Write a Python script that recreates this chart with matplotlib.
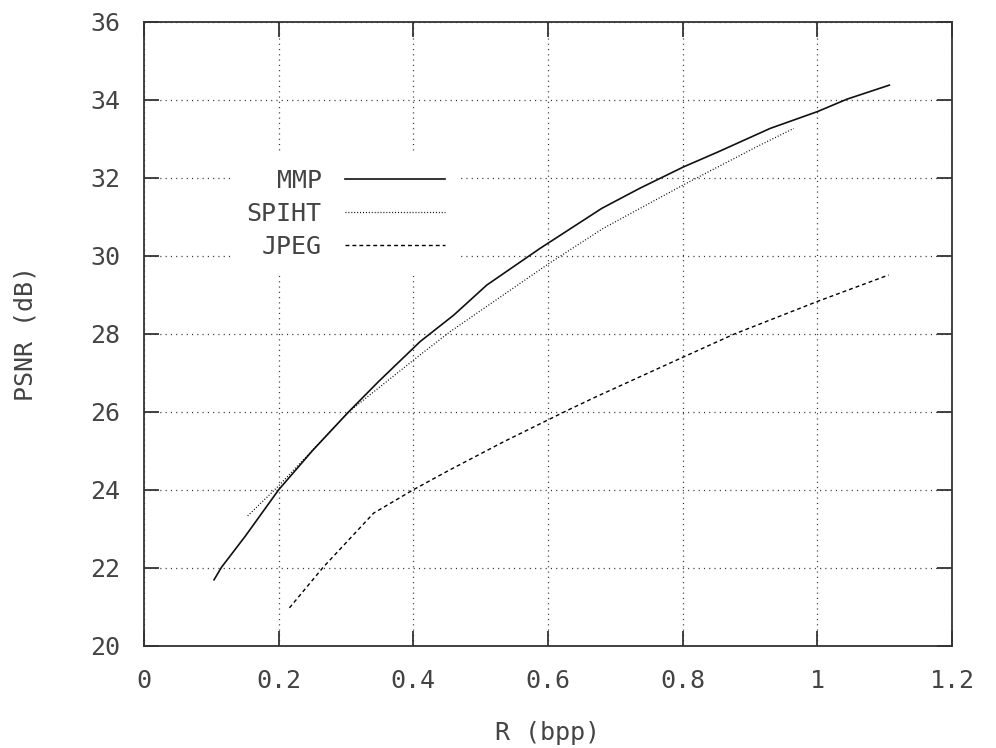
import matplotlib
matplotlib.use("Agg")
import matplotlib.pyplot as plt

# rate (bpp) / PSNR (dB) curves
mmp_r = [0.104, 0.115, 0.15, 0.20, 0.25, 0.304, 0.348, 0.41, 0.46, 0.509,
         0.588, 0.68, 0.737, 0.801, 0.853, 0.93, 1.0, 1.044, 1.107]
mmp_psnr = [21.69, 22.01, 22.80, 24.0, 25.0, 26.0, 26.77, 27.80, 28.48, 29.25,
            30.19, 31.22, 31.74, 32.28, 32.67, 33.27, 33.70, 34.02, 34.38]

spiht_r = [0.154, 0.2, 0.304, 0.41, 0.455, 0.601, 0.6825, 0.801, 0.91, 0.965]
spiht_psnr = [23.33, 24.1, 26.0, 27.46, 28.06, 29.8, 30.71, 31.82, 32.80, 33.27]

jpeg_r = [0.216, 0.266, 0.341, 0.40, 0.452, 0.534, 0.628, 0.672, 0.78, 0.876, 1.0, 1.106]
jpeg_psnr = [20.97, 22.01, 23.40, 24.0, 24.49, 25.23, 26.03, 26.39, 27.24, 27.99, 28.83, 29.51]

xticks = [0, 0.2, 0.4, 0.6, 0.8, 1, 1.2]
xticklabels = ["0", "0.2", "0.4", "0.6", "0.8", "1", "1.2"]
yticks = [20, 22, 24, 26, 28, 30, 32, 34, 36]

plt.rcParams['font.family'] = ['DejaVu Sans Mono']
plt.rcParams['lines.scale_dashes'] = False
txt = '#444444'
fs = 18

fig = plt.figure(figsize=(9.96, 7.48), dpi=100)
ax = fig.add_axes([0.1446, 0.1368, 0.8112, 0.8338])

ax.plot(mmp_r, mmp_psnr, color='#111111', lw=1.2, label='MMP')
ax.plot(spiht_r, spiht_psnr, color='black', lw=0.9, linestyle=(0, (0.7, 1.4)), label='SPIHT')
ax.plot(jpeg_r, jpeg_psnr, color='black', lw=1.0, linestyle=(0, (2.8, 2.2)), label='JPEG')

ax.set_xlim(0, 1.2)
ax.set_ylim(20, 36)
ax.set_xticks(xticks)
ax.set_xticklabels(xticklabels)
ax.set_yticks(yticks)

ax.grid(True, color='#333333', lw=0.9, linestyle=(0, (0.8, 3.0)))
ax.tick_params(direction='in', length=11, width=1.3, color='#333333',
               top=True, right=True, labelsize=fs, labelcolor=txt, pad=17)
for s in ax.spines.values():
    s.set_linewidth(1.3)
    s.set_color('#333333')

ax.set_xlabel('R (bpp)', fontsize=fs, color=txt, labelpad=20)
ax.set_ylabel('PSNR (dB)', fontsize=fs, color=txt, labelpad=38)

leg = ax.legend(loc='center', bbox_to_anchor=(0.25, 0.692), markerfirst=False,
                frameon=True, fancybox=False, fontsize=fs, handlelength=4.0,
                handletextpad=0.95, labelspacing=0.36, borderpad=0.6,
                borderaxespad=0)
leg.get_frame().set_edgecolor('none')
leg.get_frame().set_facecolor('white')
leg.get_frame().set_alpha(1)
for t in leg.get_texts():
    t.set_ha('right')
    t.set_color(txt)

fig.savefig('out.png', dpi=100)
